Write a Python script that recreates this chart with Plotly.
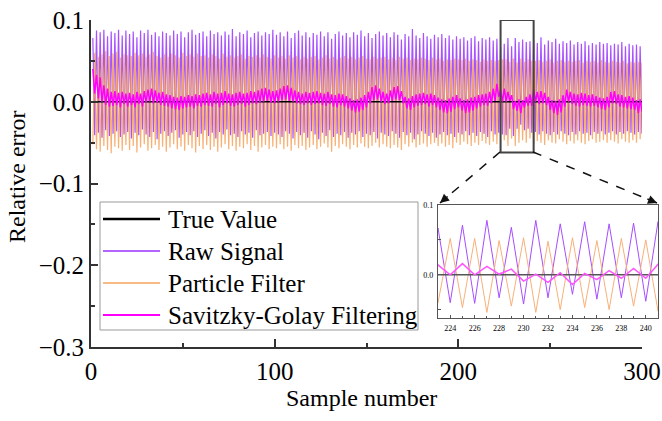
import plotly.graph_objects as go

# ---------------- data ----------------
sample = list(range(1, 301))

raw_signal = [
    0.078,-0.041,0.087,-0.038,0.085,-0.044,0.088,-0.035,0.080,-0.042,0.086,-0.039,0.084,-0.036,0.088,-0.043,0.081,-0.040,0.087,-0.037,
    0.083,-0.045,0.086,-0.038,0.079,-0.041,0.087,-0.034,0.084,-0.040,0.088,-0.043,0.082,-0.037,0.085,-0.046,0.080,-0.039,0.086,-0.036,
    0.084,-0.042,0.081,-0.038,0.087,-0.035,0.083,-0.044,0.086,-0.040,0.079,-0.037,0.085,-0.041,0.088,-0.036,0.082,-0.043,0.084,-0.039,
    0.086,-0.035,0.080,-0.042,0.087,-0.038,0.083,-0.045,0.085,-0.037,0.081,-0.040,0.086,-0.034,0.082,-0.041,0.089,-0.039,0.080,-0.043,
    0.085,-0.036,0.083,-0.040,0.087,-0.038,0.079,-0.044,0.084,-0.035,0.086,-0.041,0.081,-0.039,0.085,-0.037,0.083,-0.042,0.088,-0.038,
    0.082,-0.040,0.085,-0.043,0.080,-0.036,0.086,-0.039,0.078,-0.045,0.084,-0.037,0.087,-0.041,0.081,-0.038,0.085,-0.044,0.079,-0.036,
    0.084,-0.040,0.082,-0.046,0.086,-0.038,0.080,-0.042,0.085,-0.035,0.077,-0.043,0.083,-0.039,0.086,-0.041,0.081,-0.037,0.084,-0.044,
    0.079,-0.038,0.085,-0.040,0.082,-0.036,0.087,-0.043,0.080,-0.039,0.084,-0.041,0.078,-0.037,0.083,-0.045,0.086,-0.038,0.081,-0.040,
    0.084,-0.042,0.079,-0.036,0.085,-0.039,0.082,-0.044,0.076,-0.037,0.083,-0.041,0.080,-0.038,0.089,-0.046,0.081,-0.040,0.078,-0.036,
    0.084,-0.039,0.080,-0.042,0.077,-0.038,0.082,-0.044,0.079,-0.040,0.083,-0.037,0.078,-0.041,0.081,-0.039,0.076,-0.043,0.080,-0.038,
    0.077,-0.040,0.079,-0.036,0.075,-0.041,0.078,-0.038,0.080,-0.042,0.074,-0.037,0.078,-0.039,0.076,-0.043,0.079,-0.036,0.075,-0.040,
    0.077,-0.038,0.067,-0.040,0.071,-0.041,0.078,-0.033,0.068,-0.042,0.078,-0.033,0.073,-0.028,0.076,-0.035,0.073,-0.033,0.074,-0.038,
    0.076,-0.037,0.072,-0.040,0.079,-0.036,0.070,-0.039,0.075,-0.041,0.073,-0.037,0.077,-0.040,0.071,-0.036,0.074,-0.039,0.072,-0.041,
    0.075,-0.037,0.070,-0.040,0.073,-0.036,0.071,-0.039,0.074,-0.038,0.069,-0.041,0.072,-0.037,0.070,-0.039,0.073,-0.036,0.071,-0.040,
    0.072,-0.038,0.069,-0.036,0.071,-0.040,0.070,-0.037,0.073,-0.039,0.068,-0.036,0.071,-0.038,0.069,-0.040,0.070,-0.037,0.068,-0.039,
]

particle_filter = [
    -0.052,0.060,-0.058,0.055,-0.061,0.058,-0.054,0.062,-0.059,0.056,-0.063,0.059,-0.055,0.061,-0.057,0.054,-0.060,0.058,-0.053,0.057,
    -0.059,0.056,-0.054,0.060,-0.062,0.057,-0.056,0.059,-0.052,0.055,-0.060,0.058,-0.057,0.061,-0.053,0.056,-0.059,0.054,-0.055,0.058,
    -0.061,0.055,-0.056,0.059,-0.052,0.057,-0.058,0.054,-0.055,0.060,-0.060,0.056,-0.053,0.058,-0.057,0.055,-0.062,0.059,-0.054,0.056,
    -0.058,0.057,-0.053,0.054,-0.059,0.058,-0.055,0.056,-0.061,0.053,-0.056,0.059,-0.052,0.055,-0.058,0.057,-0.054,0.054,-0.060,0.056,
    -0.055,0.058,-0.057,0.053,-0.052,0.056,-0.059,0.055,-0.054,0.057,-0.061,0.054,-0.056,0.058,-0.053,0.055,-0.058,0.053,-0.055,0.057,
    -0.057,0.054,-0.052,0.056,-0.058,0.053,-0.055,0.057,-0.060,0.054,-0.053,0.056,-0.057,0.052,-0.054,0.055,-0.059,0.053,-0.056,0.055,
    -0.053,0.056,-0.058,0.052,-0.055,0.054,-0.051,0.057,-0.056,0.053,-0.061,0.055,-0.054,0.052,-0.057,0.054,-0.052,0.056,-0.055,0.053,
    -0.058,0.055,-0.053,0.052,-0.056,0.054,-0.051,0.056,-0.055,0.053,-0.057,0.052,-0.054,0.055,-0.050,0.053,-0.056,0.054,-0.052,0.055,
    -0.055,0.052,-0.057,0.054,-0.053,0.051,-0.056,0.055,-0.059,0.053,-0.052,0.054,-0.055,0.051,-0.050,0.053,-0.056,0.052,-0.053,0.054,
    -0.051,0.053,-0.055,0.051,-0.052,0.054,-0.050,0.052,-0.054,0.053,-0.051,0.050,-0.055,0.052,-0.053,0.051,-0.057,0.053,-0.050,0.052,
    -0.053,0.051,-0.049,0.053,-0.052,0.050,-0.054,0.052,-0.050,0.051,-0.053,0.049,-0.048,0.052,-0.051,0.050,-0.053,0.051,-0.049,0.050,
    -0.052,0.051,-0.040,0.052,-0.047,0.052,-0.054,0.049,-0.045,0.053,-0.054,0.048,-0.050,0.053,-0.047,0.049,-0.050,0.052,-0.045,0.050,
    -0.052,0.050,-0.048,0.051,-0.050,0.049,-0.053,0.050,-0.047,0.052,-0.050,0.048,-0.051,0.050,-0.046,0.051,-0.049,0.049,-0.052,0.050,
    -0.048,0.049,-0.051,0.050,-0.047,0.051,-0.050,0.048,-0.052,0.050,-0.048,0.049,-0.046,0.050,-0.050,0.048,-0.049,0.051,-0.047,0.049,
    -0.050,0.048,-0.047,0.050,-0.049,0.049,-0.051,0.048,-0.046,0.050,-0.049,0.047,-0.050,0.049,-0.047,0.048,-0.050,0.049,-0.046,0.048,
]

savitzky_golay = [
    0.040,0.010,0.033,0.004,0.030,0.000,0.020,-0.004,0.016,-0.006,0.012,-0.005,0.013,-0.004,0.011,-0.007,0.012,-0.003,0.010,-0.006,
    0.011,-0.004,0.009,-0.007,0.012,-0.003,0.010,-0.006,0.013,-0.001,0.015,0.000,0.016,-0.002,0.014,-0.001,0.011,-0.004,0.012,-0.005,
    0.009,-0.006,0.008,-0.008,0.006,-0.009,0.005,-0.010,0.007,-0.008,0.006,-0.007,0.008,-0.006,0.007,-0.008,0.009,-0.005,0.008,-0.006,
    0.010,-0.004,0.011,-0.005,0.009,-0.006,0.012,-0.003,0.010,-0.007,0.011,-0.004,0.013,-0.002,0.010,-0.005,0.009,-0.006,0.011,-0.004,
    0.012,-0.003,0.010,-0.006,0.011,-0.004,0.013,-0.002,0.012,-0.003,0.014,-0.001,0.016,0.000,0.017,0.001,0.015,-0.001,0.013,-0.002,
    0.014,0.000,0.016,0.002,0.019,0.003,0.020,0.001,0.017,0.000,0.014,-0.002,0.012,-0.003,0.010,-0.004,0.012,-0.002,0.011,-0.004,
    0.012,-0.003,0.013,-0.002,0.011,-0.004,0.010,-0.005,0.012,-0.003,0.009,-0.006,0.008,-0.007,0.010,-0.004,0.009,-0.006,0.007,-0.008,
    0.004,-0.011,0.002,-0.013,0.003,-0.012,0.005,-0.010,0.008,-0.007,0.012,-0.002,0.018,0.002,0.020,0.003,0.016,0.000,0.012,-0.003,
    0.010,-0.002,0.014,0.001,0.018,0.003,0.019,0.002,0.013,-0.002,0.006,-0.008,0.004,-0.010,0.007,-0.007,0.009,-0.005,0.010,-0.004,
    0.011,-0.003,0.009,-0.006,0.010,-0.004,0.008,-0.007,0.005,-0.010,0.003,-0.013,0.002,-0.014,0.004,-0.012,0.006,-0.009,0.008,-0.007,
    0.004,-0.011,0.002,-0.014,0.003,-0.013,0.005,-0.011,0.006,-0.008,0.008,-0.006,0.009,-0.004,0.010,-0.005,0.012,-0.002,0.016,0.001,
    0.022,0.006,0.014,0.000,0.016,0.000,0.012,0.001,0.008,-0.009,0.001,-0.011,0.003,-0.014,0.002,-0.007,0.006,-0.005,0.009,-0.005,
    0.015,0.000,0.012,-0.003,0.013,-0.002,0.011,-0.004,0.006,-0.010,0.002,-0.014,0.001,-0.016,0.003,-0.013,0.008,-0.006,0.015,0.000,
    0.012,-0.003,0.010,-0.005,0.009,-0.006,0.011,-0.004,0.010,-0.005,0.008,-0.006,0.009,-0.005,0.007,-0.007,0.005,-0.009,0.004,-0.010,
    0.006,-0.007,0.012,-0.002,0.013,-0.003,0.009,-0.006,0.008,-0.007,0.006,-0.008,0.007,-0.009,0.005,-0.010,0.002,-0.014,0.003,-0.012,
]

true_value = [0.0] * len(sample)

series_names = ["True Value", "Raw Signal", "Particle Filter", "Savitzky-Golay Filtering"]
x_title = "Sample number"
y_title = "Relative error"
zoom_window = [223, 241]
zoom_y = [-0.062, 0.1]
inset_ticks = [224, 226, 228, 230, 232, 234, 236, 238, 240]

# ---------------- styling / layout helpers ----------------
W, H = 662, 421
L, R, T, B = 91, 660, 20, 347  # plot-area pixel box
FONT = "'Times New Roman', 'Liberation Serif', 'DejaVu Serif', serif"

def fx(p):
    return (p - L) / (R - L)

def fy(p):
    return (B - p) / (B - T)

C_TRUE = "#000000"
C_RAW = "#9933ff"
C_PF = "#f7a35c"
C_SG = "#ff00ff"

fig = go.Figure()

# main panel
fig.add_trace(go.Scatter(x=sample, y=raw_signal, mode="lines", name=series_names[1],
                         line=dict(color=C_RAW, width=1.2), opacity=0.85, showlegend=False))
fig.add_trace(go.Scatter(x=sample, y=particle_filter, mode="lines", name=series_names[2],
                         line=dict(color=C_PF, width=1.2), opacity=0.85, showlegend=False))
fig.add_trace(go.Scatter(x=sample, y=true_value, mode="lines", name=series_names[0],
                         line=dict(color=C_TRUE, width=1.6), showlegend=False))
fig.add_trace(go.Scatter(x=sample, y=savitzky_golay, mode="lines", name=series_names[3],
                         line=dict(color=C_SG, width=1.5), showlegend=False))

# inset panel
fig.add_trace(go.Scatter(x=sample, y=raw_signal, mode="lines", xaxis="x2", yaxis="y2",
                         line=dict(color="#a64dff", width=1), showlegend=False))
fig.add_trace(go.Scatter(x=sample, y=particle_filter, mode="lines", xaxis="x2", yaxis="y2",
                         line=dict(color="#f8b07a", width=1), showlegend=False))
fig.add_trace(go.Scatter(x=sample, y=true_value, mode="lines", xaxis="x2", yaxis="y2",
                         line=dict(color="#555555", width=1.3), showlegend=False))
fig.add_trace(go.Scatter(x=sample, y=savitzky_golay, mode="lines", xaxis="x2", yaxis="y2",
                         line=dict(color="#ff55ff", width=1.5), showlegend=False))

axis_font = dict(family=FONT, size=25, color="#000")

fig.update_layout(
    width=W, height=H,
    margin=dict(l=L, r=W - R, t=T, b=H - B),
    paper_bgcolor="white", plot_bgcolor="white",
    font=dict(family=FONT, color="#000"),
    xaxis=dict(domain=[0, fx(642)], range=[0, 300], tickvals=[0, 100, 200, 300],
               ticks="inside", ticklen=8, tickwidth=1.5, tickcolor="#333",
               minor=dict(tickvals=[50, 150, 250], ticks="inside", ticklen=4, tickwidth=1.5, tickcolor="#333"),
               showline=True, linecolor="#333", linewidth=2, showgrid=False, zeroline=False,
               tickfont=axis_font, ticklabelstandoff=1, automargin=False),
    yaxis=dict(domain=[0, 1], range=[-0.3, 0.1], tick0=0, dtick=0.1, tickformat=".1f",
               ticks="inside", ticklen=7, tickwidth=1.5, tickcolor="#333",
               minor=dict(dtick=0.05, ticks="inside", ticklen=4, tickwidth=1.5, tickcolor="#333"),
               showline=True, linecolor="#333", linewidth=2, showgrid=False, zeroline=False,
               tickfont=axis_font, ticklabelstandoff=0, automargin=False),
    xaxis2=dict(domain=[fx(438), fx(658)], anchor="y2", range=zoom_window, tickvals=inset_ticks,
                ticks="inside", ticklen=3, tickwidth=1, tickcolor="#555",
                minor=dict(dtick=1, ticks="inside", ticklen=2, tickwidth=1, tickcolor="#555"),
                showline=True, mirror=True, linecolor="#555", linewidth=1.2,
                showgrid=False, zeroline=False, automargin=False,
                tickfont=dict(family=FONT, size=8, color="#000"), ticklabelstandoff=2),
    yaxis2=dict(domain=[fy(318), fy(205)], anchor="x2", range=zoom_y, tick0=0, dtick=0.1, tickformat=".1f",
                ticks="inside", ticklen=3, tickwidth=1, tickcolor="#555",
                minor=dict(dtick=0.05, ticks="inside", ticklen=3, tickwidth=1, tickcolor="#555"),
                showline=True, mirror=True, linecolor="#555", linewidth=1.2,
                showgrid=False, zeroline=False, automargin=False,
                tickfont=dict(family=FONT, size=8, color="#000"), ticklabelstandoff=2),
)

shapes = []
annotations = []

# axis titles
annotations.append(dict(xref="paper", yref="paper", x=fx(361), y=fy(398), text=x_title, showarrow=False,
                        xanchor="center", yanchor="middle", font=dict(family=FONT, size=24, color="#000")))
annotations.append(dict(xref="paper", yref="paper", x=fx(17), y=fy(177), text=y_title, showarrow=False,
                        textangle=-90, xanchor="center", yanchor="middle",
                        font=dict(family=FONT, size=24, color="#000")))

# zoom rectangle in the main panel
shapes.append(dict(type="rect", xref="x", yref="y", x0=zoom_window[0], x1=zoom_window[1],
                   y0=zoom_y[0], y1=zoom_y[1], line=dict(color="#444", width=2), layer="above"))

# dashed connectors with arrowheads
for (sx, sy), (ex, ey) in [((500, 152), (440, 203)), ((533, 152), (657, 203))]:
    shapes.append(dict(type="line", xref="paper", yref="paper", x0=fx(sx), y0=fy(sy), x1=fx(ex), y1=fy(ey),
                       line=dict(color="#111", width=1.5, dash="dash"), layer="above"))
    dx, dy = ex - sx, ey - sy
    n = (dx * dx + dy * dy) ** 0.5
    annotations.append(dict(xref="paper", yref="paper", x=fx(ex), y=fy(ey), text="",
                            showarrow=True, ax=-dx / n * 12, ay=-dy / n * 12,
                            arrowhead=2, arrowsize=1.2, arrowwidth=1.5, arrowcolor="#111", standoff=0))

# legend box
shapes.append(dict(type="rect", xref="paper", yref="paper", x0=fx(100), x1=fx(418), y0=fy(330), y1=fy(202),
                   line=dict(color="#999", width=1), fillcolor="white", layer="above"))
legend_rows = [219, 251, 283, 315]
legend_styles = [(C_TRUE, 2.5), (C_RAW, 1.5), (C_PF, 1.5), (C_SG, 2)]
for name, yrow, (col, w) in zip(series_names, legend_rows, legend_styles):
    shapes.append(dict(type="line", xref="paper", yref="paper", x0=fx(103), x1=fx(160), y0=fy(yrow), y1=fy(yrow),
                       line=dict(color=col, width=w), layer="above"))
    annotations.append(dict(xref="paper", yref="paper", x=fx(166), y=fy(yrow), text=name, showarrow=False,
                            xanchor="left", yanchor="middle", font=dict(family=FONT, size=25, color="#000")))

fig.update_layout(shapes=shapes, annotations=annotations)

fig.write_html("out.html")
